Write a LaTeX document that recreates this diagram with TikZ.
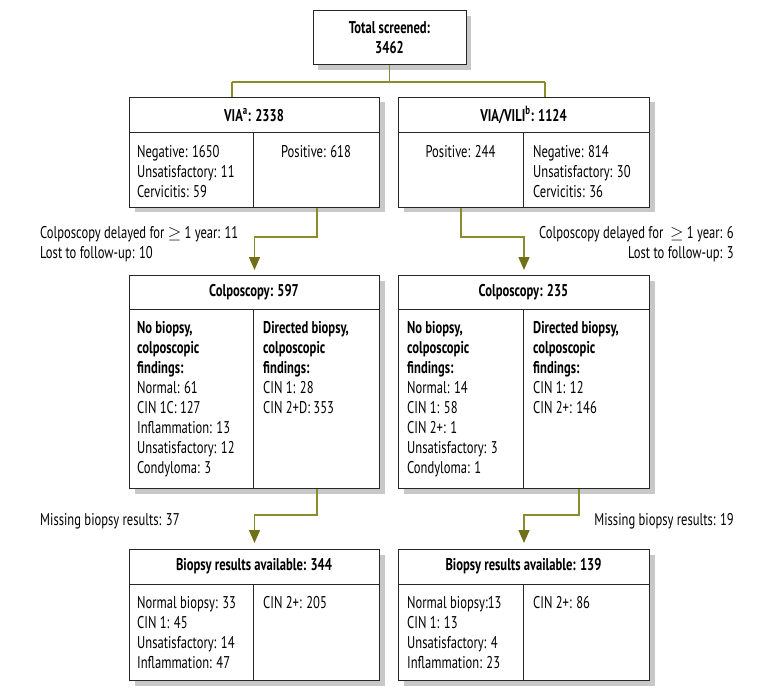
\documentclass[tikz,border=0pt]{standalone}
\usepackage{fontspec}
\setmainfont{PT Sans}[FakeStretch=0.74]
\usetikzlibrary{arrows.meta,shadows}
\definecolor{linecol}{RGB}{140,140,45}
\definecolor{headcol}{RGB}{112,112,25}
\definecolor{shadowcol}{RGB}{200,200,200}
\newcommand{\fs}{\fontsize{17}{20}\selectfont}
\newcommand{\geqsym}{\ensuremath{\geq}}
\begin{document}
\begin{tikzpicture}[x=1pt,y=-1pt,
  box/.style={draw=black!85, line width=1pt, fill=white, inner sep=0pt,
    minimum width=250pt, anchor=north west,
    drop shadow={shadow xshift=5pt, shadow yshift=-5pt, fill=shadowcol, opacity=1}},
  sep/.style={draw=black!85, line width=1pt},
  hdr/.style={font=\fs\bfseries, inner sep=0pt, align=center},
  body/.style={font=\fs, inner sep=0pt, align=left, anchor=north west},
  bodyc/.style={font=\fs, inner sep=0pt, align=center, anchor=north},
  lab/.style={font=\fs, inner sep=0pt},
  conn/.style={draw=linecol, line width=1.5pt},
  arr/.style={conn, -{Triangle[length=13pt,width=11pt,color=headcol]}, shorten >=5pt},
]
\useasboundingbox (0,0) rectangle (771,695);

% ---------- boxes ----------
\node[box, anchor=center, minimum width=153pt, minimum height=54pt, font=\fs\bfseries, align=center]
  (total) at (389.5,38) {Total screened:\\3462};

\node[box, minimum height=110pt] (via) at (129,97) {};
\node[box, minimum width=251pt, minimum height=110pt] (vili) at (398,97) {};
\node[box, minimum height=213pt] (colL) at (129,275) {};
\node[box, minimum width=251pt, minimum height=213pt] (colR) at (398,275) {};
\node[box, minimum height=131pt] (bioL) at (129,549) {};
\node[box, minimum width=251pt, minimum height=131pt] (bioR) at (398,549) {};

% header separators and column dividers
\draw[sep] (via.west |- 0,133) -- (via.east |- 0,133);
\draw[sep] (253,133) -- (253,0 |- via.south);
\draw[sep] (vili.west |- 0,133) -- (vili.east |- 0,133);
\draw[sep] (523,133) -- (523,0 |- vili.south);
\draw[sep] (colL.west |- 0,309) -- (colL.east |- 0,309);
\draw[sep] (253,309) -- (253,0 |- colL.south);
\draw[sep] (colR.west |- 0,309) -- (colR.east |- 0,309);
\draw[sep] (523,309) -- (523,0 |- colR.south);
\draw[sep] (bioL.west |- 0,584) -- (bioL.east |- 0,584);
\draw[sep] (253,584) -- (253,0 |- bioL.south);
\draw[sep] (bioR.west |- 0,584) -- (bioR.east |- 0,584);
\draw[sep] (523,584) -- (523,0 |- bioR.south);

% ---------- texts ----------
\node[hdr] (viaH) at (254,115) {VIA\textsuperscript{a}: 2338};
\node[body] (viaNeg) at (137,143) {\strut Negative: 1650\\Unsatisfactory: 11\\Cervicitis: 59};
\node[bodyc] (viaPos) at (316,143) {\strut Positive: 618};

\node[hdr] (viliH) at (523.5,115) {VIA/VILI\textsuperscript{b}: 1124};
\node[bodyc] (viliPos) at (460.5,143) {\strut Positive: 244};
\node[body] (viliNeg) at (533,143) {\strut Negative: 814\\Unsatisfactory: 30\\Cervicitis: 36};

\node[hdr] (colLH) at (254,292) {Colposcopy: 597};
\node[body] (colLa) at (137,319) {\strut\textbf{No biopsy,}\\\textbf{colposcopic}\\\textbf{findings:}\\Normal: 61\\CIN 1C: 127\\Inflammation: 13\\Unsatisfactory: 12\\Condyloma: 3};
\node[body] (colLb) at (263,319) {\strut\textbf{Directed biopsy,}\\\textbf{colposcopic}\\\textbf{findings:}\\CIN 1: 28\\CIN 2+D: 353};

\node[hdr] (colRH) at (523.5,292) {Colposcopy: 235};
\node[body] (colRa) at (407,319) {\strut\textbf{No biopsy,}\\\textbf{colposcopic}\\\textbf{findings:}\\Normal: 14\\CIN 1: 58\\CIN 2+: 1\\Unsatisfactory: 3\\Condyloma: 1};
\node[body] (colRb) at (533,319) {\strut\textbf{Directed biopsy,}\\\textbf{colposcopic}\\\textbf{findings:}\\CIN 1: 12\\CIN 2+: 146};

\node[hdr] (bioLH) at (254,566.5) {Biopsy results available: 344};
\node[body] (bioLa) at (137,594) {\strut Normal biopsy: 33\\CIN 1: 45\\Unsatisfactory: 14\\Inflammation: 47};
\node[body] (bioLb) at (263,594) {\strut CIN 2+: 205};

\node[hdr] (bioRH) at (523.5,566.5) {Biopsy results available: 139};
\node[body] (bioRa) at (407,594) {\strut Normal biopsy:13\\CIN 1: 13\\Unsatisfactory: 4\\Inflammation: 23};
\node[body] (bioRb) at (533,594) {\strut CIN 2+: 86};

% side labels
\node[lab, align=left, anchor=north west] (delL) at (40,224)
  {\strut Colposcopy delayed for \geqsym{} 1 year: 11\\Lost to follow-up: 10};
\node[lab, align=right, anchor=north east] (delR) at (734,224)
  {\strut Colposcopy delayed for \ \geqsym{} 1 year: 6\\Lost to follow-up: 3};
\node[lab, align=left, anchor=north west] (misL) at (40,511)
  {\strut Missing biopsy results: 37};
\node[lab, align=right, anchor=north east] (misR) at (734,511)
  {\strut Missing biopsy results: 19};

% ---------- connectors ----------
\coordinate (jL) at (232,82);
\coordinate (jR) at (545,82);
\draw[conn] (total.south) -- (total.south |- jL);
\draw[conn] (jL) -- (jR);
\draw[conn] (jL) -- (jL |- via.north);
\draw[conn] (jR) -- (jR |- vili.north);

\coordinate (b1) at (317,237);
\coordinate (b2) at (461,237);
\coordinate (c1) at (317,515);
\coordinate (c2) at (579,515);
\draw[arr] (via.south -| b1) |- (colL.north |- b1) -- (colL.north);
\draw[arr] (vili.south -| b2) |- (colR.north |- b2) -- (colR.north);
\draw[arr, shorten >=6pt] (colL.south -| c1) |- (bioL.north |- c1) -- (bioL.north);
\draw[arr, shorten >=6pt] (colR.south -| c2) |- (bioR.north |- c2) -- (bioR.north);
\end{tikzpicture}
\end{document}
